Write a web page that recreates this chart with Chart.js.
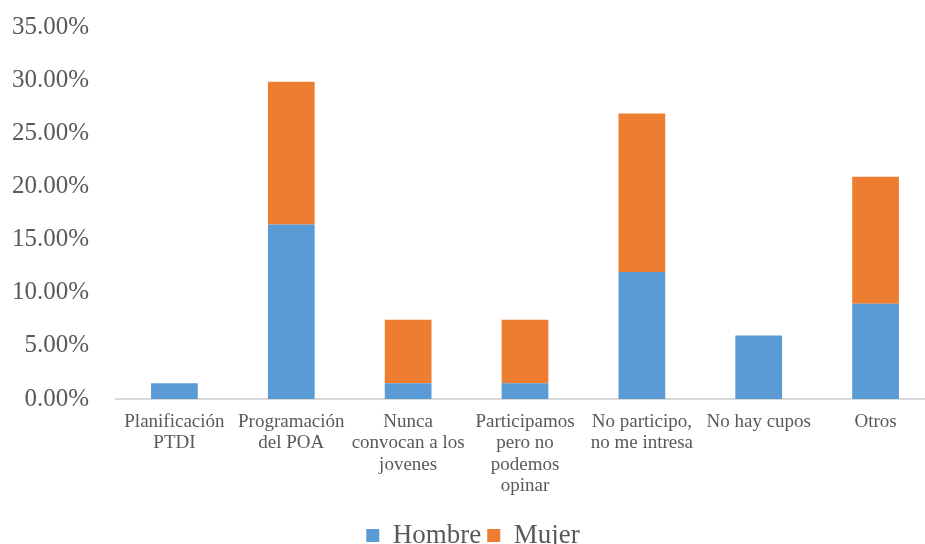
<!DOCTYPE html>
<html>
<head>
<meta charset="utf-8">
<script src="https://cdn.jsdelivr.net/npm/chart.js@4/dist/chart.umd.min.js"></script>
<style>
  html, body { margin: 0; padding: 0; background: #fff; overflow: hidden; }
  #wrap { width: 934px; height: 544px; }
</style>
</head>
<body>
<div id="wrap"><canvas id="participationChart"></canvas></div>
<script>
// Categories (multi-line labels) and percentages per group
const categories = [
    ['Planificación', 'PTDI'],
    ['Programación', 'del POA'],
    ['Nunca', 'convocan a los', 'jovenes'],
    ['Participamos', 'pero no', 'podemos', 'opinar'],
    ['No participo,', 'no me intresa'],
    'No hay cupos',
    'Otros'
];
const hombre = [1.49, 16.42, 1.49, 1.49, 11.94, 5.97, 8.96];
const mujer = [0, 13.43, 5.97, 5.97, 14.93, 0, 11.94];
const yTicks = [0, 5, 10, 15, 20, 25, 30, 35];

document.addEventListener('DOMContentLoaded', () => {
    Chart.defaults.font.family = "'Liberation Serif', 'Times New Roman', serif";
    Chart.defaults.color = '#595959';

    const ctx = document.getElementById('participationChart').getContext('2d');

    new Chart(ctx, {
        type: 'bar',
        data: {
            labels: categories,
            datasets: [
                {
                    label: 'Hombre',
                    data: hombre,
                    backgroundColor: '#5B9BD5',
                    categoryPercentage: 0.4,
                    barPercentage: 1
                },
                {
                    label: 'Mujer',
                    data: mujer,
                    backgroundColor: '#ED7D31',
                    categoryPercentage: 0.4,
                    barPercentage: 1
                }
            ]
        },
        options: {
            responsive: true,
            maintainAspectRatio: false,
            animation: false,
            layout: {
                padding: { left: 12, right: 0, top: 27, bottom: -15 }
            },
            plugins: {
                legend: {
                    position: 'bottom',
                    labels: {
                        font: { size: 27 },
                        boxWidth: 13,
                        boxHeight: 13,
                        padding: 6
                    }
                },
                tooltip: { enabled: false }
            },
            scales: {
                x: {
                    stacked: true,
                    grid: { display: false, drawTicks: false },
                    border: { color: '#D9D9D9', width: 2 },
                    ticks: {
                        font: { size: 19, lineHeight: '21.5px' },
                        maxRotation: 0,
                        autoSkip: false,
                        padding: 12
                    },
                    afterFit: (axis) => {
                        // keep long first/last labels from shrinking the plot
                        axis.paddingLeft = 0;
                        axis.paddingRight = 0;
                        axis.height = 117;
                    }
                },
                y: {
                    stacked: true,
                    min: 0,
                    max: 35,
                    afterBuildTicks: (axis) => {
                        axis.ticks = yTicks.map(v => ({ value: v }));
                    },
                    grid: { display: false, drawTicks: false },
                    border: { display: false },
                    ticks: {
                        font: { size: 25 },
                        padding: 27,
                        callback: (v) => v.toFixed(2) + '%'
                    },
                    afterFit: (axis) => {
                        axis.width = 104;
                        axis.paddingTop = 0;
                        axis.paddingBottom = 0;
                    }
                }
            }
        }
    });
});
</script>
</body>
</html>
